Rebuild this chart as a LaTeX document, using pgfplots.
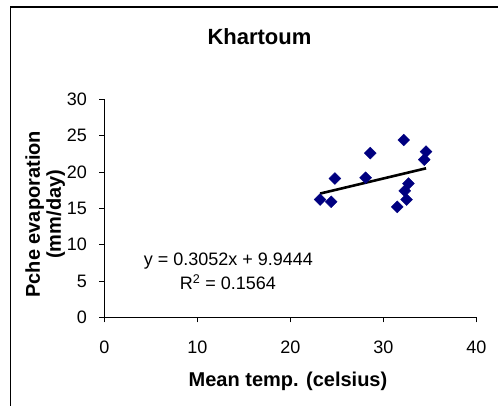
\documentclass[border=0pt]{standalone}
\usepackage{fontspec}
\setmainfont{Liberation Sans}
\usepackage{pgfplots}
\pgfplotsset{compat=1.18}
\definecolor{navy}{RGB}{0,0,128}
\begin{document}
\begin{tikzpicture}
\begin{axis}[
  at={(0,0)}, anchor=south west,
  scale only axis, width=372bp, height=218bp,
  xmin=0, xmax=40, ymin=0, ymax=30,
  axis x line*=bottom, axis y line*=left,
  axis line style={black, line width=0.8bp},
  xtick={0,10,20,30,40}, ytick={0,5,10,15,20,25,30},
  tick align=outside, major tick length=5bp,
  tick style={black, line width=0.8bp},
  ticklabel style={font=\fontsize{18bp}{18bp}\selectfont},
  xticklabel style={yshift=-15bp},
  yticklabel style={xshift=-9bp},
  /pgf/number format/assume math mode=true,
  clip=false,
]
\addplot[only marks, mark=square*, mark size=4.2bp, mark options={rotate=45, fill=navy, draw=navy}] coordinates {
 (23.2,16.2) (24.4,15.9) (24.8,19.1) (28.1,19.2) (28.6,22.6) (32.2,24.4)
 (31.5,15.2) (32.5,16.2) (32.3,17.4) (32.7,18.4) (34.4,21.7) (34.6,22.8)
};
\addplot[black, line width=2.6bp] coordinates {(23.2,17.025) (34.6,20.504)};
\node[anchor=base, font=\fontsize{18bp}{18bp}\selectfont] at (axis cs:13.35,7.19) {y = 0.3052x + 9.9444};
\node[anchor=base, font=\fontsize{18bp}{18bp}\selectfont] at (axis cs:13.3,3.85) {R\textsuperscript{2} = 0.1564};
\end{axis}
\node[anchor=base, font=\bfseries\fontsize{22bp}{22bp}\selectfont] at (155.2bp,272.3bp) {Khartoum};
\node[anchor=base, font=\bfseries\fontsize{20bp}{20bp}\selectfont] at (183.7bp,-68.7bp) {Mean temp. (celsius)};
\node[rotate=90, align=center, font=\bfseries\fontsize{20bp}{21bp}\selectfont] at (-59bp,103bp) {Pche evaporation\\(mm/day)};
\draw[line width=1.3bp] (-93.6bp,-200bp) -- (-93.6bp,310.3bp) -- (600bp,310.3bp);
\pgfresetboundingbox
\useasboundingbox (-104.3bp,-88.7bp) rectangle (393.7bp,317.3bp);
\end{tikzpicture}
\end{document}
